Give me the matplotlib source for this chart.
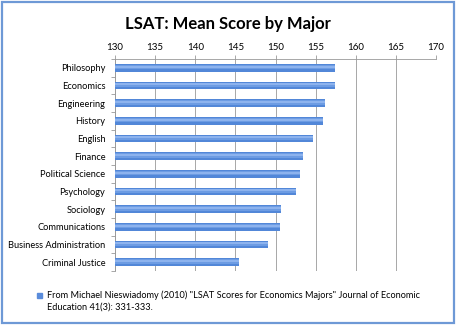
import matplotlib.pyplot as plt
from matplotlib.patches import Rectangle

# data
majors = ['Philosophy', 'Economics', 'Engineering', 'History', 'English', 'Finance',
          'Political Science', 'Psychology', 'Sociology', 'Communications',
          'Business Administration', 'Criminal Justice']
scores = [157.4, 157.4, 156.2, 155.9, 154.7, 153.4, 153.0, 152.5, 150.7, 150.5, 149.1, 145.5]
xticks = [130, 135, 140, 145, 150, 155, 160, 165, 170]
source = ('From Michael Nieswiadomy (2010) "LSAT Scores for Economics Majors" Journal of Economic\n'
          'Education 41(3): 331-333.')

plt.rcParams['font.family'] = ['Lato', 'DejaVu Sans']

fig = plt.figure(figsize=(4.57, 3.26), dpi=100)
ax = fig.add_axes([115 / 457, 1 - 271 / 326, 321 / 457, 212 / 326])

ypos = list(range(len(majors)))
widths = [s - 130 for s in scores]
bh = 0.42
# layered bars to fake the glossy gradient
ax.barh(ypos, widths, left=130, height=bh, color='#5287D8', zorder=3)
ax.barh([y - bh * 0.08 for y in ypos], widths, left=130, height=bh * 0.6,
        color='#6D9CE3', zorder=4)
ax.barh([y - bh * 0.15 for y in ypos], widths, left=130, height=bh * 0.3,
        color='#8DB3EE', zorder=5)

ax.set_xlim(130, 170)
ax.set_ylim(len(majors) - 0.5, -0.5)
ax.xaxis.tick_top()
ax.set_xticks(xticks)
ax.set_xticklabels([str(t) for t in xticks], fontsize=7)
ax.tick_params(axis='x', length=3, color='#999999', width=0.6, pad=2)
ax.set_yticks(ypos)
ax.set_yticklabels(majors, fontsize=6.7)
ax.tick_params(axis='y', length=0, pad=7)
# small boundary ticks on the category axis
ax.set_yticks([y + 0.5 for y in range(-1, len(majors))], minor=True)
ax.tick_params(axis='y', which='minor', length=3, color='#999999', width=0.6)

ax.grid(axis='x', color='#999999', linewidth=0.6, zorder=0)
for side in ['right', 'bottom']:
    ax.spines[side].set_visible(False)
for side in ['top', 'left']:
    ax.spines[side].set_color('#999999')
    ax.spines[side].set_linewidth(0.6)

fig.text(228 / 457, 1 - 24 / 326, 'LSAT: Mean Score by Major', ha='center', va='center',
         fontsize=12, fontweight='bold')

# legend-style source note
fig.patches.append(Rectangle((37 / 457, 1 - 298 / 326), 5 / 457, 5 / 326,
                             transform=fig.transFigure, color='#5A8CDB'))
fig.text(47 / 457, 1 - 290 / 326, source, ha='left', va='top', fontsize=6.6, linespacing=1.45)

# outer chart frame
fig.patches.append(Rectangle((2 / 457, 3 / 326), 452 / 457, 321 / 326, transform=fig.transFigure,
                             fill=False, edgecolor='#6E99D6', linewidth=1.6))

fig.savefig('out.png', dpi=100)
